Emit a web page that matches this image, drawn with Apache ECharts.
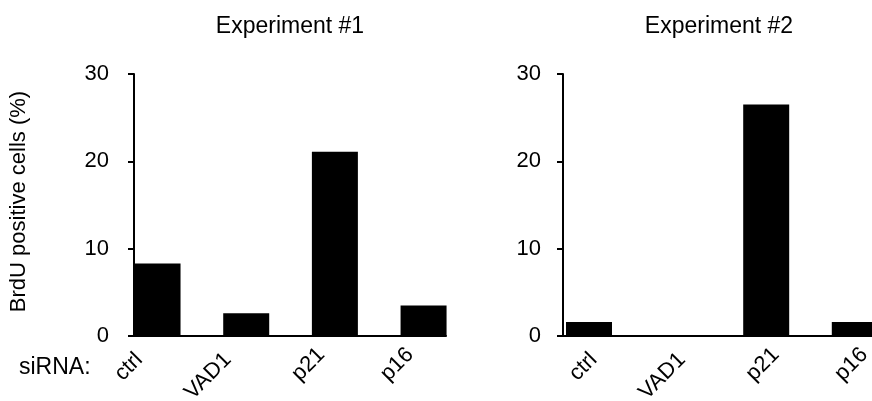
<!DOCTYPE html>
<html>
<head>
<meta charset="utf-8">
<script src="https://cdn.jsdelivr.net/npm/echarts@6/dist/echarts.min.js"></script>
<style>
html,body{margin:0;padding:0;background:#fff;}
#c{width:872px;height:401px;}
</style>
</head>
<body>
<div id="c"></div>
<script>
const categories = ['ctrl', 'VAD1', 'p21', 'p16'];
const exp1Values = [8.3, 2.6, 21.1, 3.5];
const exp2Values = [1.6, 0, 26.5, 1.6];
const yTicks = [0, 10, 20, 30];
const titles = ['Experiment #1', 'Experiment #2'];
const yName = 'BrdU positive cells (%)';
const rowLabel = 'siRNA:';

const FONT = '"Liberation Sans", Arial, sans-serif';
const chart = echarts.init(document.getElementById('c'));

const yMin = yTicks[0], yMax = yTicks[yTicks.length - 1];
const yStep = yTicks[1] - yTicks[0];

function catData() {
  return categories.map(c => ({
    value: c,
    textStyle: { padding: [0, c.length > 3 ? 26 : 19, 0, 0] }
  }));
}

const gTop = 74, gHeight = 262;
const gBase = { containLabel: false, outerBoundsMode: 'none' };
const grids = [
  Object.assign({ left: 134, top: gTop, width: 312, height: gHeight }, gBase),     // 0 axes exp1
  Object.assign({ left: 113.2, top: gTop, width: 354.7, height: gHeight }, gBase), // 1 bars+labels exp1
  Object.assign({ left: 563, top: gTop, width: 312, height: gHeight }, gBase),     // 2 axes exp2
  Object.assign({ left: 544.7, top: gTop, width: 354.4, height: gHeight }, gBase), // 3 bars exp2
  Object.assign({ left: 567.7, top: gTop, width: 354.4, height: gHeight }, gBase)  // 4 labels exp2
];

function axisX(gi) {
  return {
    type: 'value', gridIndex: gi, min: 0, max: 1,
    axisLine: { show: true, onZero: false, lineStyle: { color: '#000', width: 2 } },
    axisTick: { show: false }, axisLabel: { show: false }, splitLine: { show: false }
  };
}
function catX(gi, showLabels) {
  return {
    type: 'category', gridIndex: gi, data: catData(),
    axisLine: { show: false }, axisTick: { show: false },
    axisLabel: { show: showLabels, rotate: 45, margin: 2, color: '#000', fontSize: 22, fontFamily: FONT, interval: 0 }
  };
}
function axisY(gi, withName, margin) {
  return {
    type: 'value', gridIndex: gi, min: yMin, max: yMax, interval: yStep,
    axisLine: { show: true, lineStyle: { color: '#000', width: 2 } },
    axisTick: { show: true, length: 6, lineStyle: { color: '#000', width: 2 } },
    axisLabel: { margin: margin, color: '#000', fontSize: 22, fontFamily: FONT },
    splitLine: { show: false },
    name: withName ? yName : '',
    nameLocation: 'middle', nameGap: 104,
    nameTextStyle: { color: '#000', fontSize: 22, fontFamily: FONT, padding: [0, 0, 0, 7] }
  };
}
function hiddenY(gi) {
  return {
    type: 'value', gridIndex: gi, min: yMin, max: yMax, interval: yStep, show: false,
    splitLine: { show: false }
  };
}

chart.setOption({
  animation: false,
  backgroundColor: '#fff',
  title: [
    { text: titles[0], left: 290, top: 15, textAlign: 'center', padding: 0,
      textStyle: { color: '#000', fontSize: 23, fontWeight: 'normal', fontFamily: FONT } },
    { text: titles[1], left: 719, top: 15, textAlign: 'center', padding: 0,
      textStyle: { color: '#000', fontSize: 23, fontWeight: 'normal', fontFamily: FONT } },
    { text: rowLabel, left: 19, top: 356, padding: 0,
      textStyle: { color: '#000', fontSize: 23, fontWeight: 'normal', fontFamily: FONT } }
  ],
  grid: grids,
  xAxis: [axisX(0), catX(1, true), axisX(2), catX(3, false), catX(4, true)],
  yAxis: [axisY(0, true, 25), hiddenY(1), axisY(2, false, 22), hiddenY(3), hiddenY(4)],
  series: [
    { type: 'bar', xAxisIndex: 1, yAxisIndex: 1, data: exp1Values, barWidth: 46,
      itemStyle: { color: '#000' } },
    { type: 'bar', xAxisIndex: 3, yAxisIndex: 3, data: exp2Values, barWidth: 46,
      itemStyle: { color: '#000' } }
  ]
});
</script>
</body>
</html>
